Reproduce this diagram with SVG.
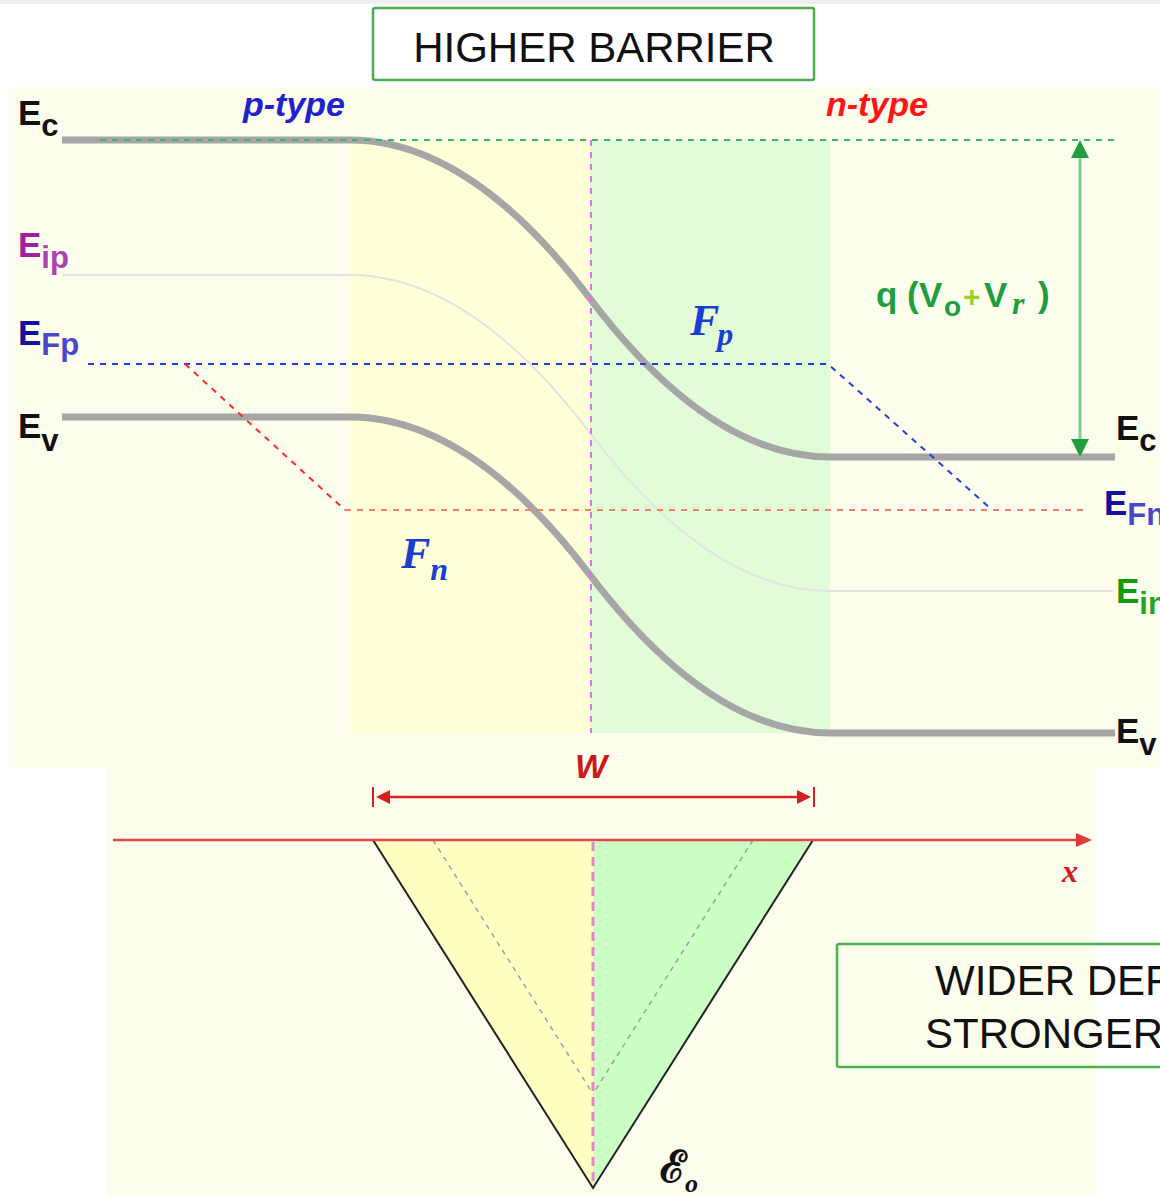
<svg xmlns="http://www.w3.org/2000/svg" width="1160" height="1196" viewBox="0 0 1160 1196">
<defs>
<style>
.lbl{font-family:"Liberation Sans",Arial,sans-serif;font-weight:bold;font-size:35px}
.sub{font-size:31px}
.box{fill:#fff;stroke:#4caf50;stroke-width:2.5}
.boxt{font-family:"Liberation Sans",Arial,sans-serif;font-size:42px;fill:#111}
.band{fill:none;stroke:#a6a6a6;stroke-width:7}
.ei{fill:none;stroke:#e2e2e2;stroke-width:2}
.dash{fill:none;stroke-width:2;stroke-dasharray:6 6}
.math{font-family:"Liberation Serif","Times New Roman",serif;font-weight:bold;font-style:italic}
.type{font-family:"Liberation Sans",Arial,sans-serif;font-weight:bold;font-style:italic;font-size:34px}
</style>
<marker id="ag" viewBox="0 0 18 18" refX="8" refY="9" markerWidth="18" markerHeight="18" markerUnits="userSpaceOnUse" orient="auto-start-reverse"><path d="M0,0 L18,9 L0,18 z" fill="#1f9e3f"/></marker>
<marker id="ar" viewBox="0 0 14 14" refX="4" refY="7" markerWidth="14" markerHeight="14" markerUnits="userSpaceOnUse" orient="auto-start-reverse"><path d="M0,0 L14,7 L0,14 z" fill="#d42020"/></marker>
<marker id="ax" viewBox="0 0 16 14" refX="6" refY="7" markerWidth="16" markerHeight="14" markerUnits="userSpaceOnUse" orient="auto"><path d="M0,0 L16,7 L0,14 z" fill="#e03a3a"/></marker>
</defs>

<!-- backgrounds -->
<rect x="0" y="0" width="1160" height="1196" fill="#ffffff"/>
<rect x="0" y="0" width="1160" height="4" fill="#eeeeee"/>
<rect x="9" y="87" width="1151" height="681" fill="#fdfdee"/>
<rect x="106" y="768" width="989" height="428" fill="#fdfdee"/>
<rect x="350" y="140" width="240" height="593" fill="#ffffd8"/>
<rect x="590" y="140" width="240" height="593" fill="#e2fcd8"/>

<!-- bands -->
<g id="bands">
<path class="ei" d="M63,275 H350 Q470,275 590,433 Q710,591 830,591 H1113"/>
<path class="band" d="M62,140 H350 Q470,140 590,298.5 Q710,457 830,457 H1115"/>
<path class="band" d="M62,417 H350 Q470,417 590,575 Q710,733 830,733 H1115"/>
</g>

<g id="connectors">
<line class="dash" x1="100" y1="140" x2="1115" y2="140" stroke="#3fb56a" stroke-width="2.5"/>
<polyline class="dash" points="88,364 828,364 990,508" stroke="#1f3fe0"/>
<line class="dash" x1="185" y1="364" x2="345" y2="510" stroke="#ff2a2a"/>
<line class="dash" x1="345" y1="510" x2="1087" y2="510" stroke="#f4806a"/>
<line class="dash" x1="591" y1="140" x2="591" y2="733" stroke="#ee6aee"/>
<line x1="1080" y1="150" x2="1080" y2="447" stroke="#7fcf95" stroke-width="3" marker-start="url(#ag)" marker-end="url(#ag)"/>
<line x1="386" y1="797" x2="801" y2="797" stroke="#d42020" stroke-width="2.5" marker-start="url(#ar)" marker-end="url(#ar)"/>
<line x1="373" y1="787" x2="373" y2="807" stroke="#d42020" stroke-width="2"/>
<line x1="814" y1="787" x2="814" y2="807" stroke="#d42020" stroke-width="2"/>
</g>

<!-- field triangle -->
<g id="field">
<polygon points="373,840 593,840 593,1188" fill="#ffffc2"/>
<polygon points="593,840 813,840 593,1188" fill="#ccffc4"/>
<line x1="433" y1="840" x2="593" y2="1094" stroke="#a0a0a0" stroke-width="1.5" stroke-dasharray="5 5"/>
<line x1="753" y1="840" x2="593" y2="1094" stroke="#a0a0a0" stroke-width="1.5" stroke-dasharray="5 5"/>
<line x1="593" y1="842" x2="593" y2="1188" stroke="#e884cc" stroke-width="3" stroke-dasharray="9 6"/>
<polyline points="373,840 593,1188 813,840" fill="none" stroke="#222" stroke-width="2"/>
<line x1="113" y1="840" x2="1082" y2="840" stroke="#e04848" stroke-width="2.5" marker-end="url(#ax)"/>
</g>

<!-- boxes -->
<g id="box-higher">
<rect class="box" x="373" y="8" width="441" height="72" rx="2"/>
<text class="boxt" x="594" y="62" text-anchor="middle">HIGHER BARRIER</text>
</g>
<g id="box-wider">
<rect class="box" x="837" y="944" width="400" height="123" rx="2" style="fill:none"/>
<text class="boxt" x="935" y="995">WIDER DEP</text>
<text class="boxt" x="925" y="1048">STRONGER</text>
</g>

<!-- labels -->
<g id="labels">
<text class="lbl" x="18" y="125" fill="#111">E<tspan class="sub" dy="11">c</tspan></text>
<text class="lbl" x="18" y="257" fill="#a020a0">E<tspan class="sub" dy="11" fill="#b040b0">ip</tspan></text>
<text class="lbl" x="18" y="345" fill="#12129a">E<tspan class="sub" dy="10" fill="#4848c8" font-size="28">Fp</tspan></text>
<text class="lbl" x="18" y="438" fill="#111">E<tspan class="sub" dy="13">v</tspan></text>
<text class="lbl" x="1116" y="440" fill="#111">E<tspan class="sub" dy="11">c</tspan></text>
<text class="lbl" x="1104" y="515" fill="#12129a">E<tspan class="sub" dy="10" fill="#4848c8" font-size="28">Fn</tspan></text>
<text class="lbl" x="1116" y="603" fill="#109a10">E<tspan class="sub" dy="11" fill="#20a820">in</tspan></text>
<text class="lbl" x="1116" y="743" fill="#111">E<tspan class="sub" dy="12">v</tspan></text>
<text class="type" x="243" y="116" fill="#2222cc">p-type</text>
<text class="type" x="826" y="116" fill="#ff1515">n-type</text>
<text class="math" x="690" y="335" font-size="44" fill="#1a3ed0">F<tspan font-size="32" dy="10" dx="-2">p</tspan></text>
<text class="math" x="401" y="568" font-size="44" fill="#1a3ed0">F<tspan font-size="32" dy="12">n</tspan></text>
<text class="lbl" y="307" fill="#1f9e3f" font-size="36"><tspan x="876">q</tspan><tspan x="907">(</tspan><tspan x="919">V</tspan><tspan x="944" dy="9" font-size="28">o</tspan><tspan x="963" dy="-9" fill="#9ad22a" font-size="30">+</tspan><tspan x="984">V</tspan><tspan x="1012" dy="7" class="math" font-size="32">r</tspan><tspan x="1038" dy="-7">)</tspan></text>
<text class="type" x="591" y="778" text-anchor="middle" fill="#cc1a1a" font-size="34">W</text>
<text class="math" x="1062" y="882" font-size="32" fill="#cc2020">x</text>
<text x="660" y="1182" font-family="'DejaVu Serif','Liberation Serif',serif" font-weight="bold" font-size="44" fill="#111">ℰ<tspan font-size="26" dy="10" dx="-2" font-family="'Liberation Serif',serif" font-style="italic" font-weight="bold">o</tspan></text>
</g>
</svg>
